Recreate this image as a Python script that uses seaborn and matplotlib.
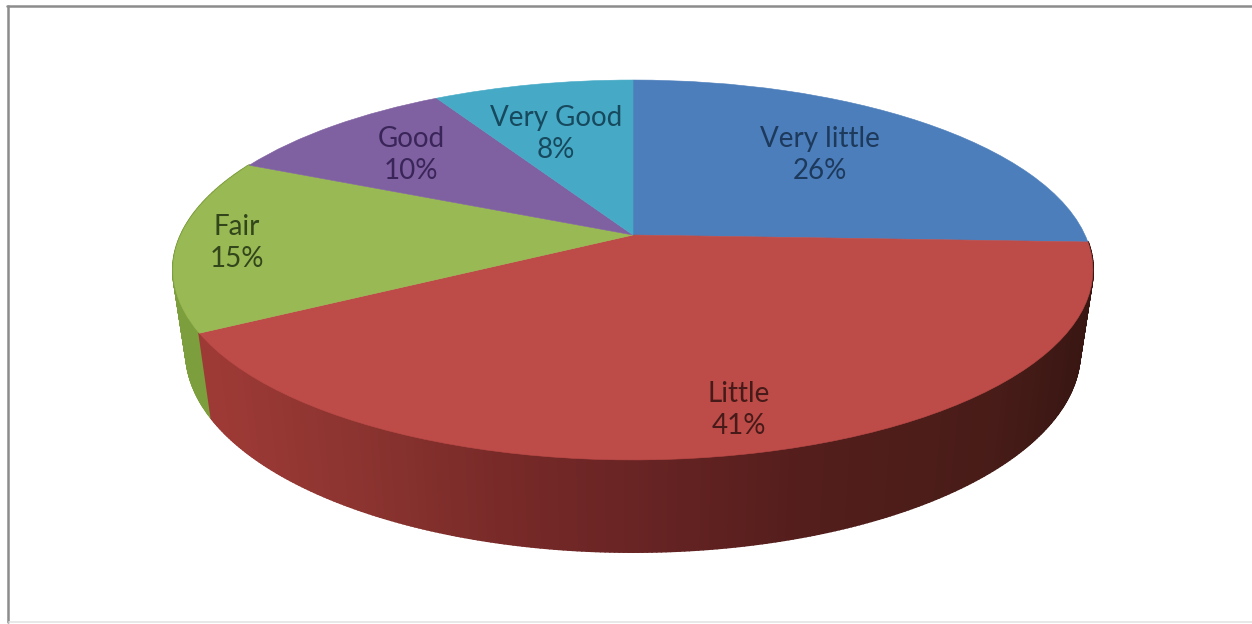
import numpy as np
import matplotlib
matplotlib.use("Agg")
import matplotlib.pyplot as plt
from matplotlib.collections import PolyCollection
from matplotlib.transforms import Transform
import seaborn as sns

# ---- data ----
categories = ["Very little", "Little", "Fair", "Good", "Very Good"]
percent = [25.6, 41.3, 14.8, 9.9, 8.4]
label_text = ["Very little\n26%", "Little\n41%", "Fair\n15%", "Good\n10%", "Very Good\n8%"]
top_colors = ["#4C7EBB", "#BD4B48", "#98B954", "#7F60A1", "#46AAC6"]
text_colors = ["#1D3A5C", "#461A18", "#33451A", "#3A2558", "#17495E"]
label_xy = [(820, 155), (739, 410), (237, 243), (411, 155), (556, 134)]

# ---- geometry of the 3-D look (in pixels) ----
W, H = 1252, 624
CX, CY = 633, 235
A, B, K = 452.0, 183.5, 0.184
RIM_CY, RIM_RX, RIM_RY = 270, 460, 190
BOT_CY, BOT_RX, BOT_RY = 352, 447, 200


def project(xy):
    xy = np.asarray(xy, float)
    u, v = xy[..., 0], xy[..., 1]
    d = 1 + K * v
    return np.stack([CX + A * u / d, CY - B * v / d], axis=-1)


class Tilt(Transform):
    input_dims = output_dims = 2
    is_affine = False
    has_inverse = False

    def transform_non_affine(self, values):
        return project(values)


def lower(p):
    return np.stack([CX + (p[..., 0] - CX) * BOT_RX / RIM_RX,
                     BOT_CY + (p[..., 1] - RIM_CY) * BOT_RY / RIM_RY], axis=-1)


sns.set_theme(style="white")
palette = sns.color_palette(top_colors)
plt.rcParams["font.family"] = ["Lato", "DejaVu Sans"]

fig = plt.figure(figsize=(W / 100, H / 100), dpi=100, facecolor="white")
ax = fig.add_axes([0, 0, 1, 1])

wedges, _ = ax.pie(percent, colors=palette, startangle=90, counterclock=False,
                   radius=1, center=(0, 0))
ax.set_aspect("auto")
ax.set_xlim(0, W)
ax.set_ylim(H, 0)
ax.axis("off")

tilt = Tilt() + ax.transData
for w, c in zip(wedges, palette):
    w.set_transform(tilt)
    w.set_clip_on(False)
    w.set_edgecolor(c)
    w.set_linewidth(0.4)
    w.set_zorder(5)

# side wall: follows the same slice angles
ends = 90 - np.cumsum([0] + percent) * 3.6
wall_x = [172, 205, 350, 500, 633, 800, 1000, 1092]
wall_r = [150, 158, 140, 120, 105, 84, 72, 56]
wall_g = [58, 58, 52, 42, 36, 30, 28, 22]
wall_b = [52, 54, 48, 40, 36, 28, 24, 18]


def wall(t0, t1, rgb):
    t = np.radians(np.linspace(t0, t1, int(abs(t1 - t0) * 2) + 2))
    top = project(np.stack([np.cos(t), np.sin(t)], axis=-1))
    bot = lower(top)
    polys = [np.array([top[i], top[i + 1], bot[i + 1], bot[i]]) for i in range(len(t) - 1)]
    cols = [rgb(0.5 * (top[i, 0] + top[i + 1, 0])) for i in range(len(t) - 1)]
    ax.add_collection(PolyCollection(polys, facecolors=cols, edgecolors=cols,
                                     linewidths=1.6, zorder=2), autolim=False)


wall(ends[2], ends[3], lambda x: (0.49, 0.62, 0.24))
wall(ends[1], ends[2], lambda x: (np.interp(x, wall_x, wall_r) / 255,
                                  np.interp(x, wall_x, wall_g) / 255,
                                  np.interp(x, wall_x, wall_b) / 255))

# labels
for (x, y), s, c in zip(label_xy, label_text, text_colors):
    ax.text(x, y, s, ha="center", va="center", fontsize=20, color=c,
            linespacing=1.27, zorder=6)

# picture frame
ax.plot([8, 8], [6, 622], color="#8C8C8C", lw=1.8, clip_on=False, zorder=1)
ax.plot([7, W], [6, 6], color="#8C8C8C", lw=1.8, clip_on=False, zorder=1)
ax.plot([9, W], [622, 622], color="#E4E4E4", lw=1.2, clip_on=False, zorder=1)

fig.savefig("out.png", dpi=100, facecolor="white")
